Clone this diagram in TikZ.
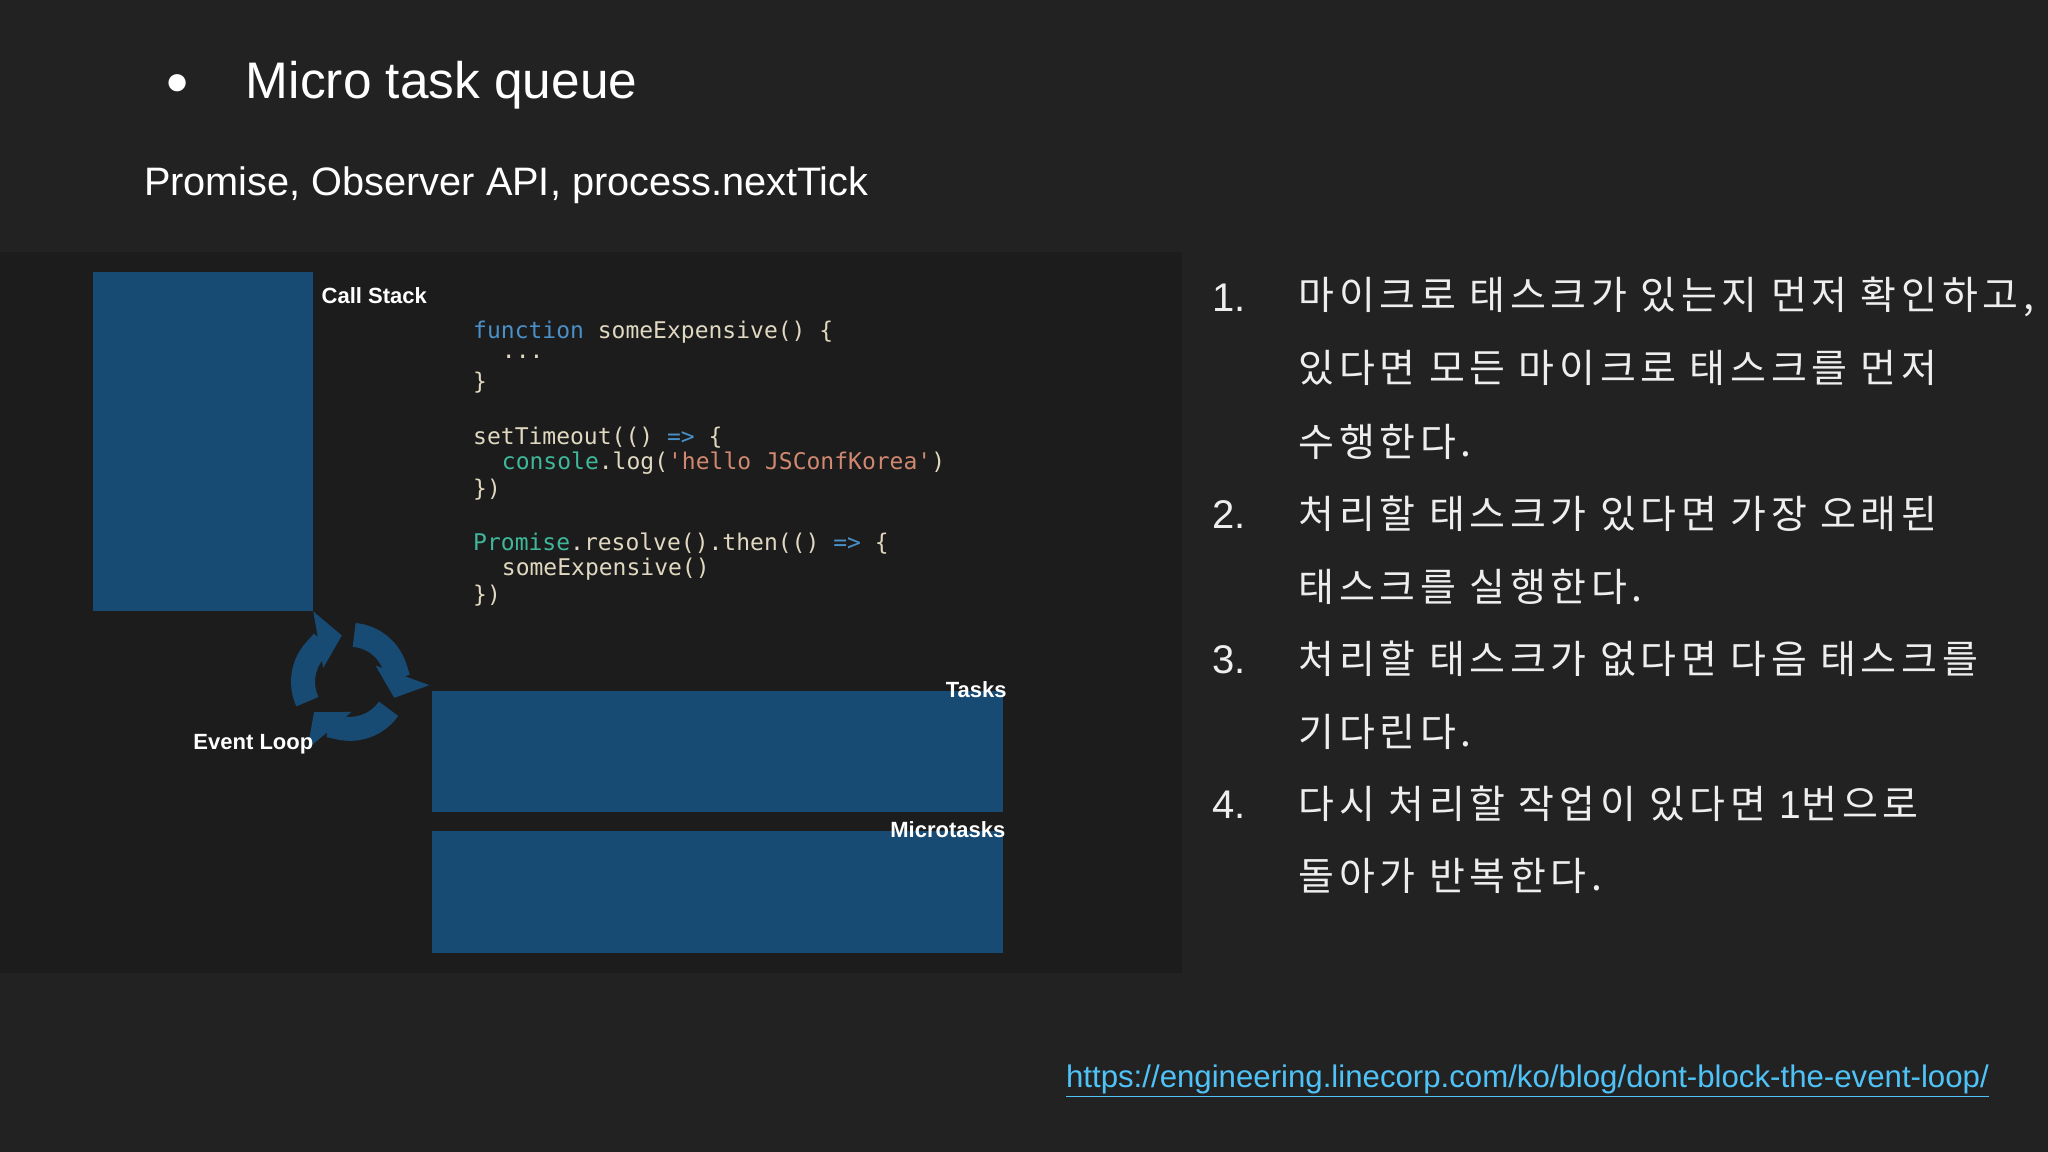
\documentclass[tikz,border=0pt]{standalone}
\usepackage{fontspec}
\setmainfont{Liberation Sans}
\setmonofont{DejaVu Sans Mono}
\newfontfamily\kr[LetterSpace=12]{Noto Sans CJK KR}
\usetikzlibrary{arrows.meta}
\definecolor{bgc}{HTML}{222222}
\definecolor{panel}{HTML}{1C1C1C}
\definecolor{boxblue}{HTML}{184B74}
\definecolor{txt}{HTML}{EEEEEE}
\definecolor{kw}{HTML}{4A90C8}
\definecolor{teal}{HTML}{3FB89A}
\definecolor{code}{HTML}{E0D8C0}
\definecolor{str}{HTML}{D08870}
\definecolor{link}{HTML}{4FC3F7}
\tikzset{
 blk/.style={fill=boxblue,draw=none},
 lbl/.style={font=\bfseries\fontsize{11}{13}\selectfont,text=white,inner sep=0pt},
 cd/.style={font=\ttfamily\fontsize{11.5}{13}\selectfont,text=code,anchor=west,inner sep=0pt},
 num/.style={font=\fontsize{20}{24}\selectfont,text=txt,anchor=west,inner sep=0pt},
 kt/.style={font=\kr\fontsize{19.5}{24}\selectfont,text=txt,anchor=west,inner sep=0pt},
 loop/.style={draw=boxblue,line width=12pt,-{Triangle[length=12pt,width=28pt]}}
}
\begin{document}
\begin{tikzpicture}[x=0.653pt,y=-0.653pt]
\fill[bgc] (0,0) rectangle (1568,882);
\useasboundingbox (0,0) rectangle (1568,882);
\fill[panel] (0,193) rectangle (905,745);
\node[text=white,font=\fontsize{20}{24}\selectfont,inner sep=0pt] (bul) at (136,65) {●};
\node[text=white,font=\fontsize{25.7}{30}\selectfont,anchor=west,inner sep=0pt] (title) at (188,65) {Micro task queue};
\node[text=white,font=\fontsize{19.85}{24}\selectfont,anchor=west,inner sep=0pt] (sub) at (110,142) {Promise, Observer API, process.nextTick};
% call stack
\path[blk] (71,208) rectangle (240,468);
\node[lbl,anchor=west] (cs) at (246,226) {Call Stack};
% code
\node[cd] (c1) at (362,254) {\textcolor{kw}{function} someExpensive() \{};
\node[cd] (c2) at (384,273) {...};
\node[cd] (c3) at (362,293) {\}};
\node[cd] (c4) at (362,335) {setTimeout(() \textcolor{kw}{=>} \{};
\node[cd] (c5) at (384,355) {\textcolor{teal}{console}.log(\textcolor{str}{'hello JSConfKorea'})};
\node[cd] (c6) at (362,375) {\})};
\node[cd] (c7) at (362,416) {\textcolor{teal}{Promise}.resolve().then(() \textcolor{kw}{=>} \{};
\node[cd] (c8) at (384,436) {someExpensive()};
\node[cd] (c9) at (362,456) {\})};
% event loop icon
\coordinate (lc) at (268,522);
\draw[loop] ([shift={(155:36)}]lc) arc[start angle=155,end angle=260,radius=36];
\draw[loop] ([shift={(275:36)}]lc) arc[start angle=275,end angle=380,radius=36];
\draw[loop] ([shift={(35:36)}]lc) arc[start angle=35,end angle=140,radius=36];
\node[lbl] (el) at (194,570) {Event Loop};
% queues
\path[blk] (331,529) rectangle (768,622);
\node[lbl,anchor=east] (tk) at (771,528) {Tasks};
\path[blk] (331,636) rectangle (768,730);
\node[lbl,anchor=east] (mt) at (770,635) {Microtasks};
% list
\node[num] (n1) at (928,228) {1.};
\node[kt] (t1a) at (994,227) {마이크로 태스크가 있는지 먼저 확인하고,};
\node[kt] (t1b) at (994,282) {있다면 모든 마이크로 태스크를 먼저};
\node[kt] (t1c) at (994,338) {수행한다.};
\node[num] (n2) at (928,394) {2.};
\node[kt] (t2a) at (994,393) {처리할 태스크가 있다면 가장 오래된};
\node[kt] (t2b) at (994,449) {태스크를 실행한다.};
\node[num] (n3) at (928,505) {3.};
\node[kt] (t3a) at (994,504) {처리할 태스크가 없다면 다음 태스크를};
\node[kt] (t3b) at (994,560) {기다린다.};
\node[num] (n4) at (928,616) {4.};
\node[kt] (t4a) at (994,615) {다시 처리할 작업이 있다면 \fontspec{Liberation Sans}1\kr 번으로};
\node[kt] (t4b) at (994,671) {돌아가 반복한다.};
\node[text=link,font=\fontsize{15.6}{18}\selectfont,anchor=east,inner sep=0pt] (url) at (1523,828) {\underline{https://engineering.linecorp.com/ko/blog/dont-block-the-event-loop/}};
\end{tikzpicture}
\end{document}
